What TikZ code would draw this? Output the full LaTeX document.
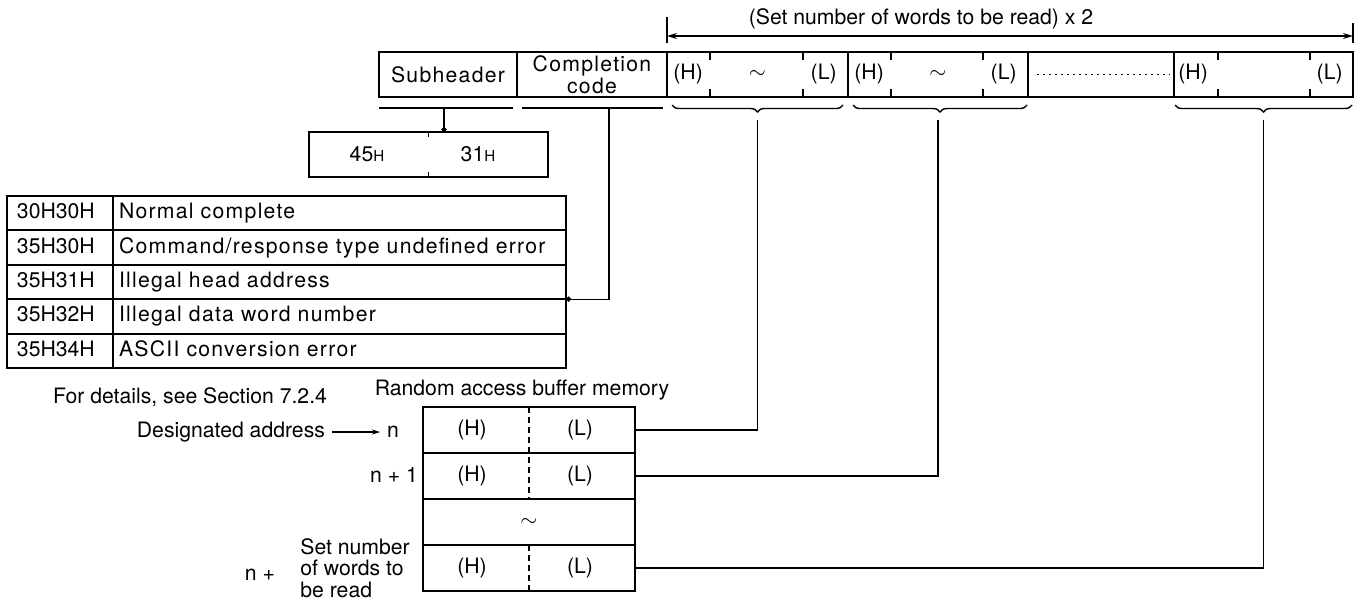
\documentclass[tikz,border=0pt]{standalone}
\usepackage{fontspec}
\setmainfont{TeX Gyre Heros}
\newfontfamily\spaced{TeX Gyre Heros}[LetterSpace=6]
\usetikzlibrary{positioning,arrows.meta,decorations.pathreplacing}
\newcommand{\txtsize}{\fontsize{10.6}{11.5}\selectfont}
\newcommand{\hsub}{{\fontsize{7.6}{8}\selectfont H}}

\begin{document}
\begin{tikzpicture}[x=0.5pt, y=-0.5pt, font=\txtsize,
  spc/.style={font=\spaced\txtsize},
  cell/.style={draw, line width=1pt, inner sep=0pt, outer sep=0pt,
               minimum height=22.5pt, align=center},
  row/.style={draw, line width=1pt, inner ysep=0pt, outer sep=0pt,
              minimum height=17.2pt, align=left, text height=7.6pt, text depth=2.2pt},
  code/.style={row, text width=43pt, inner xsep=5pt},
  desc/.style={row, spc, text width=220.5pt, inner xsep=3pt},
  mem/.style={draw, line width=1pt, inner sep=0pt, outer sep=0pt,
              minimum width=106pt, minimum height=23pt},
  lbl/.style={text height=7.6pt, text depth=2.2pt},
  link/.style={line width=0.7pt},
  dotarr/.style={line width=0.7pt, -{Circle[length=2.6pt]}},
  dimarr/.style={line width=0.7pt, {Stealth[length=5pt,width=3pt]}-{Stealth[length=5pt,width=3pt]}},
  brc/.style={line width=0.7pt, decorate, decoration={brace, mirror, amplitude=3.5pt}},
  ]
  \useasboundingbox (0,0) rectangle (1361,601);

  \node[cell, spc, minimum width=69pt] (sub) at (448,74.5) {Subheader};
  \node[cell, minimum width=75pt, right=0pt of sub, font=\spaced\fontsize{10.6}{10}\selectfont] (comp) {Completion\\code};
  \node[cell, minimum width=90.5pt, right=0pt of comp] (w1) {\raisebox{-1.5pt}{$\sim$}};
  \node[cell, minimum width=90pt, right=0pt of w1] (w2) {\raisebox{-1.5pt}{$\sim$}};
  \node[cell, minimum width=73pt, right=0pt of w2] (wd) {};
  \node[cell, minimum width=89.5pt, right=0pt of wd] (wn) {};

  \node[anchor=west, inner sep=0pt] (w1h) at ([xshift=3pt]w1.west) {(H)};
  \node[anchor=east, inner sep=0pt] (w1l) at ([xshift=-5.5pt]w1.east) {(L)};
  \node[anchor=west, inner sep=0pt] (w2h) at ([xshift=3pt]w2.west) {(H)};
  \node[anchor=east, inner sep=0pt] (w2l) at ([xshift=-5.5pt]w2.east) {(L)};
  \node[anchor=west, inner sep=0pt] (wnh) at ([xshift=2pt]wn.west) {(H)};
  \node[anchor=east, inner sep=0pt] (wnl) at ([xshift=-5pt]wn.east) {(L)};
  \draw[line width=0.9pt, dash pattern=on 0.9pt off 2.1pt] ([xshift=4.5pt]wd.west) -- ([xshift=-2pt]wd.east);

  \draw[link] ([xshift=21.5pt]w1.north west) -- ++(0,8) ([xshift=21.5pt]w1.south west) -- ++(0,-8)
              ([xshift=-22.5pt]w1.north east) -- ++(0,8) ([xshift=-22.5pt]w1.south east) -- ++(0,-8);
  \draw[link] ([xshift=21.5pt]w2.north west) -- ++(0,8) ([xshift=21.5pt]w2.south west) -- ++(0,-8)
              ([xshift=-22.5pt]w2.north east) -- ++(0,8) ([xshift=-22.5pt]w2.south east) -- ++(0,-8);
  \draw[link] ([xshift=22pt]wn.north west) -- ++(0,8) ([xshift=22pt]wn.south west) -- ++(0,-8)
              ([xshift=-21.5pt]wn.north east) -- ++(0,8) ([xshift=-21.5pt]wn.south east) -- ++(0,-8);

  \draw[dimarr] ([yshift=8pt]w1.north west) -- ([yshift=8pt]wn.north east);
  \draw[link] ([yshift=4.5pt]w1.north west) -- ++(0,-26);
  \draw[link] ([yshift=4.5pt]wn.north east) -- ++(0,-20);
  \node (ttl) at (921,19) {(Set number of words to be read) x 2};

  \draw[link] ([yshift=-5.5pt]sub.south west) -- ([xshift=-2pt,yshift=-5.5pt]sub.south east);
  \draw[link] ([xshift=2.5pt,yshift=-5.5pt]comp.south west) -- ([xshift=-2pt,yshift=-5.5pt]comp.south east);
  \draw[brc] ([xshift=2.5pt,yshift=-4pt]w1.south west) -- ([xshift=-2.5pt,yshift=-4pt]w1.south east);
  \draw[brc] ([xshift=2.5pt,yshift=-4pt]w2.south west) -- ([xshift=-0.5pt,yshift=-4pt]w2.south east);
  \draw[brc] ([xshift=0.5pt,yshift=-4pt]wn.south west) -- ([xshift=-0.5pt,yshift=-4pt]wn.south east);

  \node[cell, minimum width=119.5pt, line width=0.8pt] (hx) at (428.5,154.5) {};
  \draw[link] (hx.north) -- ++(0,5) (hx.south) -- ++(0,-5);
  \node (hx45) at ([xshift=-30.75pt]hx.center) {45\hsub};
  \node (hx31) at ([xshift=24.75pt]hx.center) {31\hsub};
  \coordinate (subu) at ([xshift=-2pt,yshift=-5.5pt]sub.south);
  \draw[dotarr] (subu) -- (subu |- hx.north);

  \node[code] (r1c) at (60,213.2) {30H30H};
  \node[desc, right=0pt of r1c] (r1d) {Normal complete};
  \node[code, below=0pt of r1c] (r2c) {35H30H};
  \node[desc, right=0pt of r2c] (r2d) {Command/response type undefined error};
  \node[code, below=0pt of r2c] (r3c) {35H31H};
  \node[desc, right=0pt of r3c] (r3d) {Illegal head address};
  \node[code, below=0pt of r3c] (r4c) {35H32H};
  \node[desc, right=0pt of r4c] (r4d) {Illegal data word number};
  \node[code, below=0pt of r4c] (r5c) {35H34H};
  \node[desc, right=0pt of r5c] (r5d) {ASCII conversion error};
  \coordinate (compu) at ([xshift=8.5pt,yshift=-5.5pt]comp.south);
  \draw[dotarr] (compu) |- (r3d.south east);

  \node (sec) at (190,397) {For details, see Section 7.2.4};
  \node (ram) at (522,390) {Random access buffer memory};

  \node[mem] (m1) at (529,430) {};
  \node[mem, below=0pt of m1] (m2) {};
  \node[mem, below=0pt of m2] (m3) {$\sim$};
  \node[mem, below=0pt of m3] (m4) {};
  \draw[line width=0.6pt, dash pattern=on 3pt off 2pt] (m1.north) -- (m2.south) (m4.north) -- (m4.south);
  \node (m1h) at ([xshift=-28.5pt]m1.center) {(H)};
  \node (m1l) at ([xshift=25.5pt]m1.center) {(L)};
  \node (m2h) at ([xshift=-28.5pt]m2.center) {(H)};
  \node (m2l) at ([xshift=25.5pt]m2.center) {(L)};
  \node (m4h) at ([xshift=-28.5pt]m4.center) {(H)};
  \node (m4l) at ([xshift=25.5pt]m4.center) {(L)};

  \node[lbl, anchor=east] (dsg) at (332,432) {Designated address};
  \node[lbl] (nn) at (393,432) {n};
  \draw[line width=0.6pt, -{Stealth[length=4pt,width=2.6pt]}] (dsg) -- (nn);
  \node[lbl, anchor=east] (n1) at (425,477) {n + 1};
  \node[lbl] (nk) at (260,575) {n +};
  \node[anchor=west, align=left, inner sep=0pt, font=\fontsize{10.6}{10.8}\selectfont] (nkt) at (300,568) {Set number\\of words to\\be read};

  \coordinate (t1) at ([yshift=-11.5pt]w1.south);
  \coordinate (t2) at ([yshift=-11.5pt]w2.south);
  \coordinate (t3) at ([yshift=-11.5pt]wn.south);
  \draw[link] (t1) |- (m1.east);
  \draw[link] (t2) |- (m2.east);
  \draw[link] (t3) |- (m4.east);
\end{tikzpicture}
\end{document}
